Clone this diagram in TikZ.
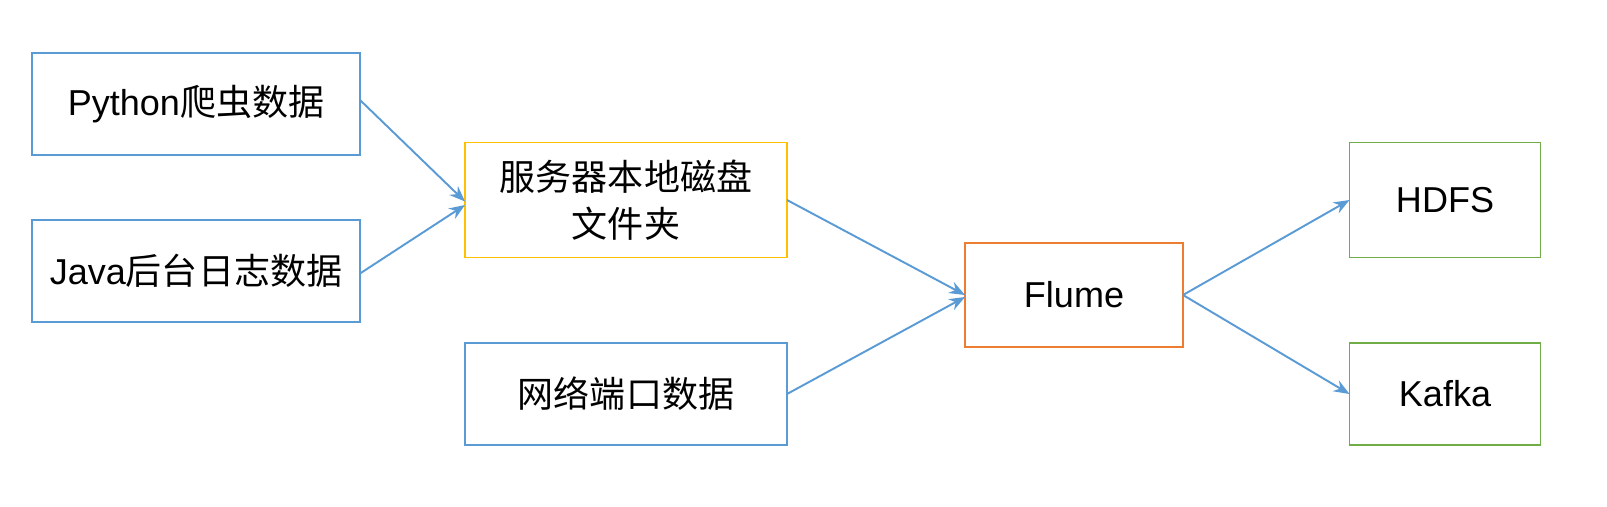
\documentclass[tikz,border=0pt]{standalone}
\usepackage{fontspec}
\setmainfont{Liberation Sans}
\newfontfamily\cjk{Noto Sans CJK SC}
\usetikzlibrary{arrows.meta}
\definecolor{lineblue}{RGB}{91,155,213}
\definecolor{boxyellow}{RGB}{255,192,0}
\definecolor{boxorange}{RGB}{237,125,49}
\definecolor{boxgreen}{RGB}{112,173,71}
\tikzset{
  srcbox/.style={draw=lineblue, line width=1.1pt, minimum width=6.5cm, minimum height=2.04cm, align=center, font=\fontsize{20.5}{27}\selectfont},
  flow/.style={draw=lineblue, line width=1.1pt, -{Stealth[length=9pt,width=7pt]}}
}
\begin{document}
\begin{tikzpicture}[inner sep=0pt,outer sep=0pt]
    \useasboundingbox (0,0) rectangle (32.14,-10.12);
    % sources
    \node[srcbox, minimum width=6.56cm] (python) at (3.92,-2.08) {Python{\cjk 爬虫数据}};
    \node[srcbox, minimum width=6.56cm] (java) at (3.92,-5.42) {Java{\cjk 后台日志数据}};
    \node[srcbox, draw=boxyellow, minimum width=6.44cm, minimum height=2.3cm] (disk) at (12.52,-4.0) {\cjk 服务器本地磁盘\\\cjk 文件夹};
    \node[srcbox, minimum width=6.44cm] (port) at (12.52,-7.88) {\cjk 网络端口数据};
    % collector
    \node[srcbox, draw=boxorange, minimum width=4.36cm, minimum height=2.08cm] (flume) at (21.48,-5.9) {Flume};
    % sinks
    \node[srcbox, draw=boxgreen, minimum width=3.82cm, minimum height=2.3cm] (hdfs) at (28.9,-4.0) {HDFS};
    \node[srcbox, draw=boxgreen, minimum width=3.82cm] (kafka) at (28.9,-7.88) {Kafka};

    \draw[flow] ([yshift=0.08cm]python.east) -- ([yshift=-0.03cm]disk.west);
    \draw[flow] ([yshift=-0.05cm]java.east) -- ([yshift=-0.1cm]disk.west);
    \draw[flow] (disk.east) -- (flume.west);
    \draw[flow] (port.east) -- ([yshift=-0.04cm]flume.west);
    \draw[flow] (flume.east) -- (hdfs.west);
    \draw[flow] (flume.east) -- (kafka.west);
\end{tikzpicture}
\end{document}
